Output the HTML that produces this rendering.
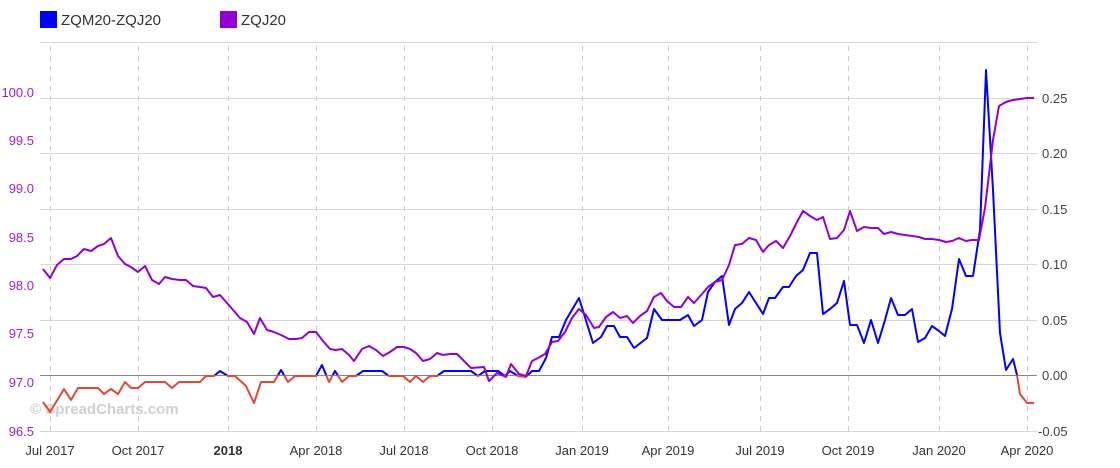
<!DOCTYPE html>
<html><head><meta charset="utf-8"><style>
body{margin:0;background:#fff;}
svg{display:block;font-family:"Liberation Sans",sans-serif;}
</style></head><body>
<svg width="1120" height="468" viewBox="0 0 1120 468">
<defs>
<clipPath id="above"><rect x="0" y="0" width="1120" height="375"/></clipPath>
<clipPath id="below"><rect x="0" y="375" width="1120" height="100"/></clipPath>
</defs>
<rect x="40" y="11" width="17" height="17" fill="#0000ff"/>
<text x="61" y="25" font-size="15" fill="#333">ZQM20-ZQJ20</text>
<rect x="220" y="11" width="17" height="17" fill="#9400d3"/>
<text x="241" y="25" font-size="15" fill="#333">ZQJ20</text>
<g stroke="#d8d8d8" stroke-width="1">
<line x1="40" y1="42.5" x2="1037" y2="42.5"/>
<line x1="40" y1="98.5" x2="1037" y2="98.5"/>
<line x1="40" y1="153.5" x2="1037" y2="153.5"/>
<line x1="40" y1="209.5" x2="1037" y2="209.5"/>
<line x1="40" y1="264.5" x2="1037" y2="264.5"/>
<line x1="40" y1="320.5" x2="1037" y2="320.5"/>
<line x1="40" y1="431.5" x2="1037" y2="431.5"/>
</g>
<g stroke="#ccc" stroke-width="1" stroke-dasharray="5,5">
<line x1="50.5" y1="46" x2="50.5" y2="436"/>
<line x1="138.5" y1="46" x2="138.5" y2="436"/>
<line x1="228.5" y1="46" x2="228.5" y2="436"/>
<line x1="316.5" y1="46" x2="316.5" y2="436"/>
<line x1="404.5" y1="46" x2="404.5" y2="436"/>
<line x1="492.5" y1="46" x2="492.5" y2="436"/>
<line x1="582.5" y1="46" x2="582.5" y2="436"/>
<line x1="668.5" y1="46" x2="668.5" y2="436"/>
<line x1="760.5" y1="46" x2="760.5" y2="436"/>
<line x1="848.5" y1="46" x2="848.5" y2="436"/>
<line x1="939.5" y1="46" x2="939.5" y2="436"/>
<line x1="1027.5" y1="46" x2="1027.5" y2="436"/>
</g>
<line x1="40" y1="375.5" x2="1037" y2="375.5" stroke="#888" stroke-width="1"/>
<text x="30" y="414" font-size="15" font-weight="bold" fill="#d0d0d0">© SpreadCharts.com</text>
<g font-size="13" fill="#9a1fe6" text-anchor="end">
<text x="34" y="97">100.0</text>
<text x="34" y="145">99.5</text>
<text x="34" y="193">99.0</text>
<text x="34" y="242">98.5</text>
<text x="34" y="290">98.0</text>
<text x="34" y="338">97.5</text>
<text x="34" y="387">97.0</text>
<text x="34" y="436">96.5</text>
</g>
<g font-size="13" fill="#444">
<text x="1042" y="103">0.25</text>
<text x="1042" y="158">0.20</text>
<text x="1042" y="214">0.15</text>
<text x="1042" y="269">0.10</text>
<text x="1042" y="325">0.05</text>
<text x="1042" y="380">0.00</text>
<text x="1038" y="436">-0.05</text>
</g>
<g font-size="13" fill="#333" text-anchor="middle">
<text x="50" y="455">Jul 2017</text>
<text x="138" y="455">Oct 2017</text>
<text x="228" y="455" font-weight="bold">2018</text>
<text x="316" y="455">Apr 2018</text>
<text x="404" y="455">Jul 2018</text>
<text x="492" y="455">Oct 2018</text>
<text x="582" y="455">Jan 2019</text>
<text x="668" y="455">Apr 2019</text>
<text x="760" y="455">Jul 2019</text>
<text x="848" y="455">Oct 2019</text>
<text x="939" y="455">Jan 2020</text>
<text x="1027" y="455">Apr 2020</text>
</g>
<g id="spread" fill="none" stroke-width="2" stroke-linejoin="round">
<polyline clip-path="url(#below)" stroke="#e04a33" points="43,402 50,412 64,389 71,400 78,388 98,388 104,394 111,389 118,394 125,382 131,388 138,388 145,382 165,382 172,388 179,382 200,382 206,376 214,376 220,371 228,376 235,376 246,386 254,403 261,382 274,382 281,370 288,382 295,376 316,376 322,365 329,382 335,371 342,382 349,376 356,376 363,371 382,371 389,376 403,376 410,382 416,376 423,382 430,376 437,376 444,371 471,371 478,376 485,371 498,371 505,376 510,371 518,376 526,377 532,371 539,371 546,358 552,337 559,337 566,320 579,298 593,343 601,337 607,326 614,326 620,337 627,337 634,348 647,338 654,309 662,320 680,320 688,315 694,326 702,320 708,292 715,282 722,276 729,325 735,309 742,303 749,292 756,303 763,314 769,298 775,298 783,287 789,287 796,276 803,270 810,253 817,253 823,314 830,309 837,303 844,281 850,325 857,325 864,343 871,320 878,343 885,320 891,298 898,315 905,315 912,309 918,342 925,338 932,326 939,331 945,336 952,309 959,259 966,276 973,276 980,230 986,70 993,190 1000,333 1006,370 1013,359 1017,375 1020,394 1027,403 1034,403"/>
<polyline clip-path="url(#above)" stroke="#0000ff" points="43,402 50,412 64,389 71,400 78,388 98,388 104,394 111,389 118,394 125,382 131,388 138,388 145,382 165,382 172,388 179,382 200,382 206,376 214,376 220,371 228,376 235,376 246,386 254,403 261,382 274,382 281,370 288,382 295,376 316,376 322,365 329,382 335,371 342,382 349,376 356,376 363,371 382,371 389,376 403,376 410,382 416,376 423,382 430,376 437,376 444,371 471,371 478,376 485,371 498,371 505,376 510,371 518,376 526,377 532,371 539,371 546,358 552,337 559,337 566,320 579,298 593,343 601,337 607,326 614,326 620,337 627,337 634,348 647,338 654,309 662,320 680,320 688,315 694,326 702,320 708,292 715,282 722,276 729,325 735,309 742,303 749,292 756,303 763,314 769,298 775,298 783,287 789,287 796,276 803,270 810,253 817,253 823,314 830,309 837,303 844,281 850,325 857,325 864,343 871,320 878,343 885,320 891,298 898,315 905,315 912,309 918,342 925,338 932,326 939,331 945,336 952,309 959,259 966,276 973,276 980,230 986,70 993,190 1000,333 1006,370 1013,359 1017,375 1020,394 1027,403 1034,403"/>
</g>
<polyline fill="none" stroke="#9400d3" stroke-width="2" stroke-linejoin="round" points="43,269 50,278 57,265 64,259 71,259 77,256 84,249 91,251 98,246 104,244 111,238 118,256 125,264 131,267 138,272 145,266 152,280 159,284 165,277 172,279 180,280 186,280 193,286 200,287 206,288 213,297 220,295 227,303 234,311 240,318 247,322 254,334 260,318 267,330 274,332 281,335 289,339 296,339 302,338 309,332 316,332 323,341 330,349 336,350 342,349 349,355 354,361 362,349 369,346 376,350 383,356 390,352 397,347 404,347 410,349 416,353 423,361 430,359 437,353 443,355 450,354 457,354 464,361 471,368 484,367 489,381 497,373 506,377 511,364 519,374 526,376 532,361 538,358 545,354 552,342 558,341 565,332 572,318 579,309 586,315 594,328 599,327 606,317 613,312 620,318 627,316 633,323 640,316 647,311 654,297 661,293 667,301 674,307 681,307 688,297 694,303 702,294 708,287 715,282 722,280 729,265 735,245 742,244 749,238 756,240 763,252 769,245 776,241 783,248 790,236 797,222 803,211 810,216 817,220 823,217 830,239 837,238 844,230 850,211 857,231 864,227 871,228 878,228 884,234 891,232 898,234 905,235 912,236 919,237 925,239 932,239 939,240 946,242 952,241 959,238 966,241 972,240 979,240 985,208 993,140 999,106 1006,102 1013,100 1020,99 1027,98 1034,98"/>
</svg>
</body></html>
